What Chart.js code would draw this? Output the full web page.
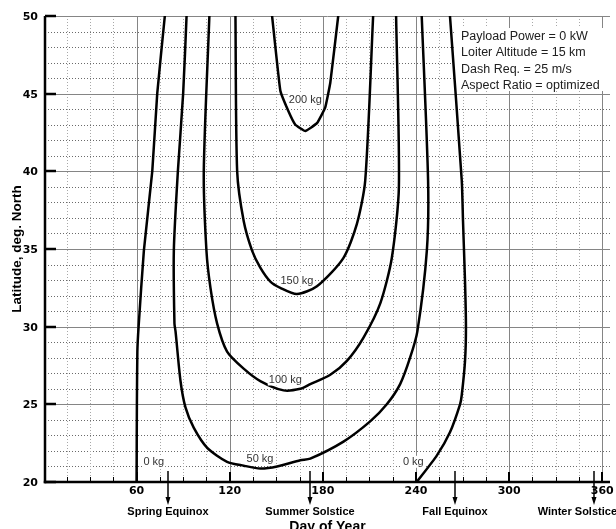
<!DOCTYPE html>
<html>
<head>
<meta charset="utf-8">
<title>Payload contours</title>
<script src="https://cdn.jsdelivr.net/npm/chart.js@4.4.0/dist/chart.umd.min.js"></script>
<style>
    html, body { margin: 0; padding: 0; background: #ffffff; }
    #wrap { width: 616px; height: 529px; }
</style>
</head>
<body>
<div id="wrap"><canvas id="contourChart" width="616" height="529"></canvas></div>
<script>
// Axis ticks
var xTicks = [60, 120, 180, 240, 300, 360];
var yTicks = [20, 25, 30, 35, 40, 45, 50];

// Contour lines (day of year / latitude)
var kg0LeftDay = [60, 60.2, 60.5, 61.3, 64.7, 70.1, 73.3, 78.2];
var kg0LeftLat = [20, 25, 28.4, 30, 34.9, 40, 45, 50];

var kg50Day = [92.2, 90.0, 86.6, 84.0, 84.4, 85.1, 88.3, 91.5, 96.8, 105.5, 118.3, 129, 139.7, 150.5, 165.5, 171.9, 193.3, 210.5, 221.2, 229.8, 236.2, 240.9, 247.0, 247.8, 243.7];
var kg50Lat = [50, 45, 40, 34.9, 30.2, 29.7, 26.5, 24.8, 23.5, 22.2, 21.3, 21.05, 20.87, 21.0, 21.4, 21.5, 22.6, 23.9, 25.0, 26.3, 28.0, 29.7, 34.9, 39.4, 50];

var kg100Day = [106.9, 103.3, 105.0, 107.6, 111.9, 118.3, 129.0, 139.7, 154.7, 165.5, 171.9, 184.8, 195.5, 206.2, 217.0, 224.4, 229.0, 227.2];
var kg100Lat = [50, 40, 34.9, 32.5, 30.2, 28.4, 27.3, 26.5, 25.9, 26.0, 26.3, 26.9, 27.8, 29.3, 31.5, 34.4, 39.0, 50];

var kg150Day = [123.7, 124.8, 129.0, 134.4, 139.7, 146.2, 152.6, 163.3, 176.2, 193.1, 201.9, 207.3, 212.4];
var kg150Lat = [50, 40, 36.8, 34.9, 33.8, 32.9, 32.5, 32.1, 32.6, 34.4, 36.6, 39.4, 50];

var kg200Day = [147.3, 152.6, 157.7, 162.3, 168.7, 176.2, 181.5, 184.8, 189.9];
var kg200Lat = [50, 45.2, 43.9, 43.0, 42.6, 43.1, 44.1, 45.7, 50];

var kg0RightDay = [261.9, 269.5, 270.3, 271.6, 272.2, 271.6, 269.5, 268.4, 261.9, 253.4, 240.5];
var kg0RightLat = [50, 39.4, 36.8, 32.9, 30.0, 27.8, 25.6, 25.0, 23.2, 21.7, 20.0];

// Contour labels
var contourNames = ['0 kg', '50 kg', '100 kg', '150 kg', '200 kg', '0 kg'];
var contourNameDay = [71.1, 139.5, 155.8, 163.3, 168.7, 238.3];
var contourNameLat = [21.3, 21.5, 26.6, 33.0, 44.6, 21.3];

// Season markers
var seasonNames = ['Spring Equinox', 'Summer Solstice', 'Fall Equinox', 'Winter Solstice'];
var seasonDays = [80, 172, 265, 355];

var noteLines = ['Payload Power = 0 kW', 'Loiter Altitude = 15 km', 'Dash Req. = 25 m/s', 'Aspect Ratio = optimized'];

function toPoints(days, lats) {
    var pts = [];
    for (var i = 0; i < days.length; i++) {
        pts.push({ x: days[i], y: lats[i] });
    }
    return pts;
}

function contour(days, lats, tension) {
    return {
        data: toPoints(days, lats),
        showLine: true,
        borderColor: '#000000',
        borderWidth: 2.5,
        borderJoinStyle: 'round',
        borderCapStyle: 'round',
        pointRadius: 0,
        tension: tension
    };
}

function line(ctx, x1, y1, x2, y2) {
    ctx.beginPath();
    ctx.moveTo(x1, y1);
    ctx.lineTo(x2, y2);
    ctx.stroke();
}

var decorPlugin = {
    id: 'decor',
    beforeDraw: function (chart) {
        var ctx = chart.ctx;
        ctx.save();
        ctx.fillStyle = '#ffffff';
        ctx.fillRect(0, 0, chart.width, chart.height);
        ctx.restore();
    },
    beforeDatasetsDraw: function (chart) {
        var ctx = chart.ctx;
        var xs = chart.scales.x, ys = chart.scales.y, area = chart.chartArea;
        ctx.save();
        ctx.lineWidth = 1;

        // dotted minor grid
        ctx.setLineDash([1, 2]);
        ctx.strokeStyle = '#6a6a6a';
        for (var lat = 21; lat < 50; lat++) {
            if (lat % 5 === 0) continue;
            var py = Math.round(ys.getPixelForValue(lat)) + 0.5;
            line(ctx, area.left, py, area.right, py);
        }
        ctx.strokeStyle = '#a8a8a8';
        for (var d = 15; d < 365; d += 15) {
            if (d % 60 === 0) continue;
            var px = Math.round(xs.getPixelForValue(d)) + 0.5;
            line(ctx, px, area.top, px, area.bottom);
        }

        // solid major grid
        ctx.setLineDash([]);
        ctx.strokeStyle = '#858585';
        yTicks.forEach(function (v) {
            var py = Math.round(ys.getPixelForValue(v)) + 0.5;
            line(ctx, area.left, py, area.right, py);
        });
        xTicks.forEach(function (v) {
            var px = Math.round(xs.getPixelForValue(v)) + 0.5;
            line(ctx, px, area.top, px, area.bottom);
        });

        // white box behind the case notes
        ctx.fillStyle = '#ffffff';
        ctx.fillRect(455, 28, chart.width - 455, 63);
        ctx.restore();
    },
    afterDatasetsDraw: function (chart) {
        var ctx = chart.ctx;
        var xs = chart.scales.x, ys = chart.scales.y, area = chart.chartArea;
        ctx.save();

        // contour labels with white box
        ctx.font = '11px "Liberation Sans", Arial, sans-serif';
        ctx.textAlign = 'center';
        ctx.textBaseline = 'middle';
        for (var i = 0; i < contourNames.length; i++) {
            var cx = xs.getPixelForValue(contourNameDay[i]);
            var cy = ys.getPixelForValue(contourNameLat[i]);
            var w = ctx.measureText(contourNames[i]).width;
            ctx.fillStyle = '#ffffff';
            ctx.fillRect(cx - w / 2 - 1, cy - 6, w + 2, 12);
            ctx.fillStyle = '#333333';
            ctx.fillText(contourNames[i], cx, cy + 0.5);
        }

        // axis lines
        ctx.strokeStyle = '#000000';
        ctx.lineWidth = 2.5;
        line(ctx, area.left, area.top, area.left, area.bottom + 1.25);
        line(ctx, area.left - 1.25, area.bottom, area.right, area.bottom);

        // ticks
        ctx.lineWidth = 1;
        for (var d = 15; d < 365; d += 15) {
            if (d % 60 === 0) continue;
            var mx = Math.round(xs.getPixelForValue(d)) + 0.5;
            line(ctx, mx, area.bottom, mx, area.bottom - 5);
        }
        ctx.lineWidth = 2;
        xTicks.forEach(function (v) {
            var px = Math.round(xs.getPixelForValue(v));
            line(ctx, px, area.bottom, px, area.bottom - 10);
        });
        ctx.lineWidth = 2.5;
        yTicks.forEach(function (v) {
            var py = Math.round(ys.getPixelForValue(v));
            line(ctx, area.left, py, area.left + 11, py);
        });

        // tick labels
        ctx.fillStyle = '#000000';
        ctx.font = 'bold 11px "DejaVu Sans", sans-serif';
        ctx.textAlign = 'right';
        ctx.textBaseline = 'middle';
        yTicks.forEach(function (v) {
            ctx.fillText(String(v), area.left - 7, ys.getPixelForValue(v) + 1);
        });
        ctx.textAlign = 'center';
        ctx.textBaseline = 'top';
        xTicks.forEach(function (v) {
            ctx.fillText(String(v), xs.getPixelForValue(v), area.bottom + 4);
        });

        // season arrows
        ctx.font = 'bold 11px "Liberation Sans", Arial, sans-serif';
        ctx.textBaseline = 'alphabetic';
        ctx.lineWidth = 1.5;
        for (var k = 0; k < seasonDays.length; k++) {
            var ax = Math.round(xs.getPixelForValue(seasonDays[k]));
            line(ctx, ax, area.bottom - 11, ax, area.bottom + 16);
            ctx.beginPath();
            ctx.moveTo(ax - 2.5, area.bottom + 15);
            ctx.lineTo(ax + 2.5, area.bottom + 15);
            ctx.lineTo(ax, area.bottom + 23);
            ctx.closePath();
            ctx.fill();
            var tw = ctx.measureText(seasonNames[k]).width;
            var tx = Math.min(ax, chart.width + 1 - tw / 2);
            ctx.textAlign = 'center';
            ctx.fillText(seasonNames[k], tx, area.bottom + 32.5);
        }

        // axis titles
        ctx.font = 'bold 14px "Liberation Sans", Arial, sans-serif';
        ctx.textAlign = 'center';
        ctx.fillText('Day of Year', (area.left + area.right) / 2, area.bottom + 49);

        ctx.save();
        ctx.translate(17.5, (area.top + area.bottom) / 2);
        ctx.rotate(-Math.PI / 2);
        ctx.font = 'bold 13.5px "Liberation Sans", Arial, sans-serif';
        ctx.textBaseline = 'middle';
        ctx.fillText('Latitude, deg. North', 0, 0);
        ctx.restore();

        // case notes
        ctx.font = '12.5px "Liberation Sans", Arial, sans-serif';
        ctx.fillStyle = '#202020';
        ctx.textAlign = 'left';
        for (var n = 0; n < noteLines.length; n++) {
            ctx.fillText(noteLines[n], 461, 39.5 + n * 16.5);
        }
        ctx.restore();
    }
};

var ctx = document.getElementById('contourChart').getContext('2d');

var myChart = new Chart(ctx, {
    type: 'scatter',
    data: {
        datasets: [
            contour(kg0LeftDay, kg0LeftLat, 0.15),
            contour(kg50Day, kg50Lat, 0.25),
            contour(kg100Day, kg100Lat, 0.25),
            contour(kg150Day, kg150Lat, 0.25),
            contour(kg200Day, kg200Lat, 0.1),
            contour(kg0RightDay, kg0RightLat, 0.2)
        ]
    },
    options: {
        responsive: false,
        animation: false,
        devicePixelRatio: 1,
        layout: { padding: { top: 16, right: 6, left: 0, bottom: 0 } },
        plugins: {
            legend: { display: false },
            tooltip: { enabled: false }
        },
        scales: {
            x: {
                type: 'linear',
                min: 1,
                max: 365,
                grid: { display: false },
                border: { display: false },
                ticks: { display: false },
                afterFit: function (scale) {
                    scale.height = 47;
                    scale.paddingLeft = 0;
                    scale.paddingRight = 0;
                }
            },
            y: {
                type: 'linear',
                min: 20,
                max: 50,
                grid: { display: false },
                border: { display: false },
                ticks: { display: false },
                afterFit: function (scale) {
                    scale.width = 45;
                    scale.paddingTop = 0;
                    scale.paddingBottom = 0;
                }
            }
        }
    },
    plugins: [decorPlugin]
});
</script>
</body>
</html>
